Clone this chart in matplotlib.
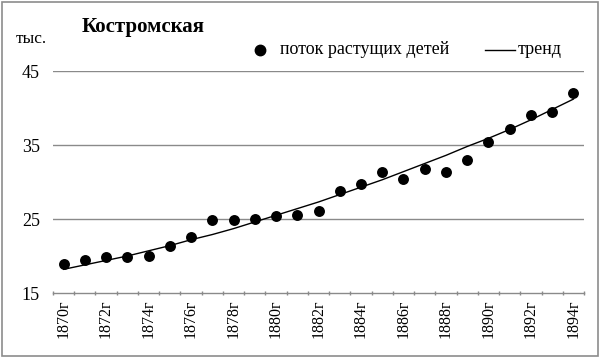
import numpy as np
import matplotlib
matplotlib.use("Agg")
import matplotlib.pyplot as plt
from matplotlib.patches import Rectangle
from matplotlib.lines import Line2D

years = list(range(1870, 1895))
values = [18.9, 19.5, 19.9, 19.9, 20.0, 21.4, 22.6, 24.8, 24.8, 25.0,
          25.4, 25.6, 26.1, 28.8, 29.7, 31.4, 30.4, 31.7, 31.4, 33.0,
          35.4, 37.2, 39.0, 39.4, 42.0]
trend = [18.2, 18.8, 19.4, 20.0, 20.7, 21.4, 22.2, 22.9, 23.7, 24.6,
         25.5, 26.4, 27.3, 28.3, 29.3, 30.3, 31.4, 32.5, 33.6, 34.8,
         35.9, 37.1, 38.4, 39.8, 41.2]
tick_labels = [f"{y}г" for y in years[::2]]
y_ticks = [15, 25, 35, 45]
series_label = "поток растущих детей"
trend_label = "тренд"

plt.rcParams['font.family'] = ['Liberation Serif', 'DejaVu Serif']

W, H = 600, 358
fig = plt.figure(figsize=(W / 100, H / 100), dpi=100)
fig.patch.set_facecolor('white')
fig.add_artist(Rectangle((0.004, 0.006), 0.992, 0.988, transform=fig.transFigure,
                         fill=False, edgecolor='#8c8c8c', linewidth=1.2))

def fx(px):
    return px / W

def fy(py):
    return 1 - py / H

ax = fig.add_axes([fx(53), fy(293), (584 - 53) / W, (293 - 71) / H])
x = np.arange(len(years))
ax.plot(x, trend, color='black', linewidth=1.0, zorder=3)
ax.scatter(x, values, s=62, color='black', zorder=4, linewidths=0)

ax.set_xlim(-0.5, len(years) - 0.5)
ax.set_ylim(15, 45)
ax.set_yticks(y_ticks)
ax.set_yticklabels([str(v) for v in y_ticks], fontsize=13)
for v in y_ticks[1:]:
    ax.axhline(v, color='#8a8a8a', linewidth=1.0, zorder=1)
ax.tick_params(axis='y', length=0, pad=9.5)

ax.set_xticks(x[::2])
ax.set_xticklabels(tick_labels, rotation=90, fontsize=11.5)
ax.set_xticks(np.arange(len(years) + 1) - 0.5, minor=True)
ax.tick_params(axis='x', which='major', length=0, pad=5)
ax.tick_params(axis='x', which='minor', length=3, color='#8a8a8a', width=1,
               direction='inout')

for s in ['top', 'right', 'left']:
    ax.spines[s].set_visible(False)
ax.spines['bottom'].set_color('#8a8a8a')
ax.spines['bottom'].set_linewidth(1.0)

fig.text(fx(82), fy(27), "Костромская", fontsize=15, fontweight='bold',
         va='center', ha='left')
fig.text(fx(16), fy(39), "тыс.", fontsize=12.5, va='center', ha='left')

# legend drawn manually
fig.add_artist(Line2D([fx(260)], [fy(50)], marker='o', color='black',
                      markersize=7.5, linestyle='None', transform=fig.transFigure))
fig.text(fx(280), fy(50), series_label, fontsize=13, va='center', ha='left')
fig.add_artist(Line2D([fx(485), fx(515)], [fy(49.5), fy(49.5)], color='black',
                      linewidth=1.0, transform=fig.transFigure))
fig.text(fx(518), fy(50), trend_label, fontsize=13, va='center', ha='left')

fig.savefig("out.png", dpi=100)
